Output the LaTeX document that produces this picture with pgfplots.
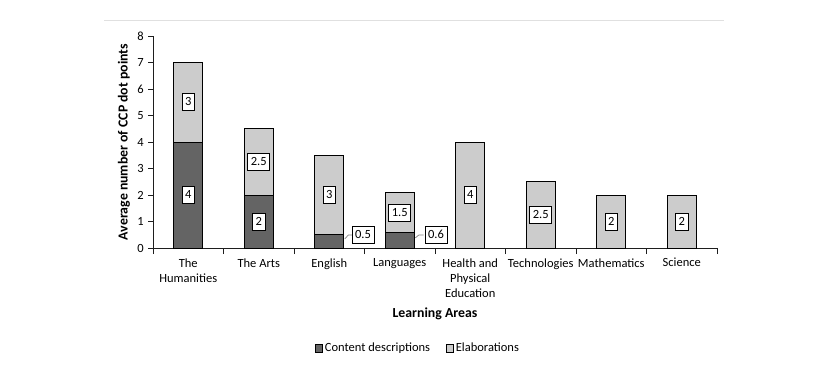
\documentclass[border=0pt]{standalone}
\usepackage{pgfplots}
\pgfplotsset{compat=1.18}
\usepackage{fontspec}
\setmainfont{Carlito}
\definecolor{darkbar}{RGB}{100,100,100}
\definecolor{lightbar}{RGB}{204,204,204}
\definecolor{axisgray}{RGB}{30,30,30}
\newcommand{\tfont}{\fontsize{12.5bp}{15bp}\selectfont}
\newcommand{\lfont}{\fontsize{13.8bp}{16bp}\selectfont\bfseries}
\begin{document}
\tfont
\begin{tikzpicture}[x=1bp,y=1bp]
\path[use as bounding box] (0,0) rectangle (828,369);
\draw[black!12, line width=1bp] (104,348) -- (724,348);
\begin{axis}[
  at={(153bp,121bp)}, anchor=south west,
  scale only axis, width=564bp, height=212bp,
  xmin=-0.5, xmax=7.5, ymin=0, ymax=8,
  axis lines*=left,
  axis line style={axisgray, line width=0.9bp},
  tick align=outside,
  major tick length=5bp, minor tick length=6bp,
  tick style={axisgray, line width=0.9bp},
  xtick={0,...,7},
  major x tick style={draw=none},
  minor xtick={-0.5,0.5,...,7.5},
  xticklabels={{The\\Humanities},{The Arts},{English},{Languages},{Health and\\Physical\\Education},{Technologies},{Mathematics},{Science}},
  x tick label style={align=center, font=\tfont, yshift=-1bp},
  ytick={0,...,8},
  y tick label style={font=\tfont},
  /pgf/number format/assume math mode=true,
  xlabel={Learning Areas},
  xlabel style={at={(axis description cs:0.5,-0.311)}, anchor=center, font=\lfont},
  ylabel={Average number of CCP dot points},
  ylabel style={at={(axis description cs:-0.0514,0.5)}, anchor=center, rotate=0, font=\lfont},
  legend style={at={(axis description cs:0.47,-0.472)}, anchor=center, draw=none, fill=none,
    font=\tfont, legend columns=2,
    /tikz/every even column/.append style={column sep=14bp}},
  legend image code/.code={\draw[#1, draw=black, line width=0.7bp] (0bp,-4bp) rectangle (7bp,4bp);},
  clip=false,
]
\addplot[ybar, stack plots=y, bar width=29bp, fill=darkbar, draw=black, line width=0.8bp]
  coordinates {(0,4) (1,2) (2,0.5) (3,0.6) (4,0) (5,0) (6,0) (7,0)};
\addlegendentry{Content descriptions}
\addplot[ybar, stack plots=y, bar width=29bp, fill=lightbar, draw=black, line width=0.8bp]
  coordinates {(0,3) (1,2.5) (2,3) (3,1.5) (4,4) (5,2.5) (6,2) (7,2)};
\addlegendentry{Elaborations}
\addplot[forget plot, stack plots=false, gray, line width=0.7bp, mark=none]
  coordinates {(2.22,0.34) (2.27,0.49) (2.32,0.49)};
\addplot[forget plot, stack plots=false, gray, line width=0.7bp, mark=none]
  coordinates {(3.22,0.38) (3.27,0.49) (3.34,0.49)};
\addplot[forget plot, stack plots=false, only marks, mark=none,
  nodes near coords, point meta=explicit symbolic, nodes near coords align=center,
  every node near coord/.append style={draw=black, fill=white, line width=0.8bp,
    inner xsep=3bp, inner ysep=4bp, text height=8bp, text depth=1bp,
    font=\tfont}]
  table[meta=label] {
x y label
0 2 4
0 5.5 3
1 1 2
1 3.25 2.5
2 2 3
2.479 0.49 0.5
3 1.32 1.5
3.514 0.49 0.6
4 2 4
5 1.25 2.5
6 1 2
7 1 2
};
\end{axis}
\end{tikzpicture}
\end{document}
